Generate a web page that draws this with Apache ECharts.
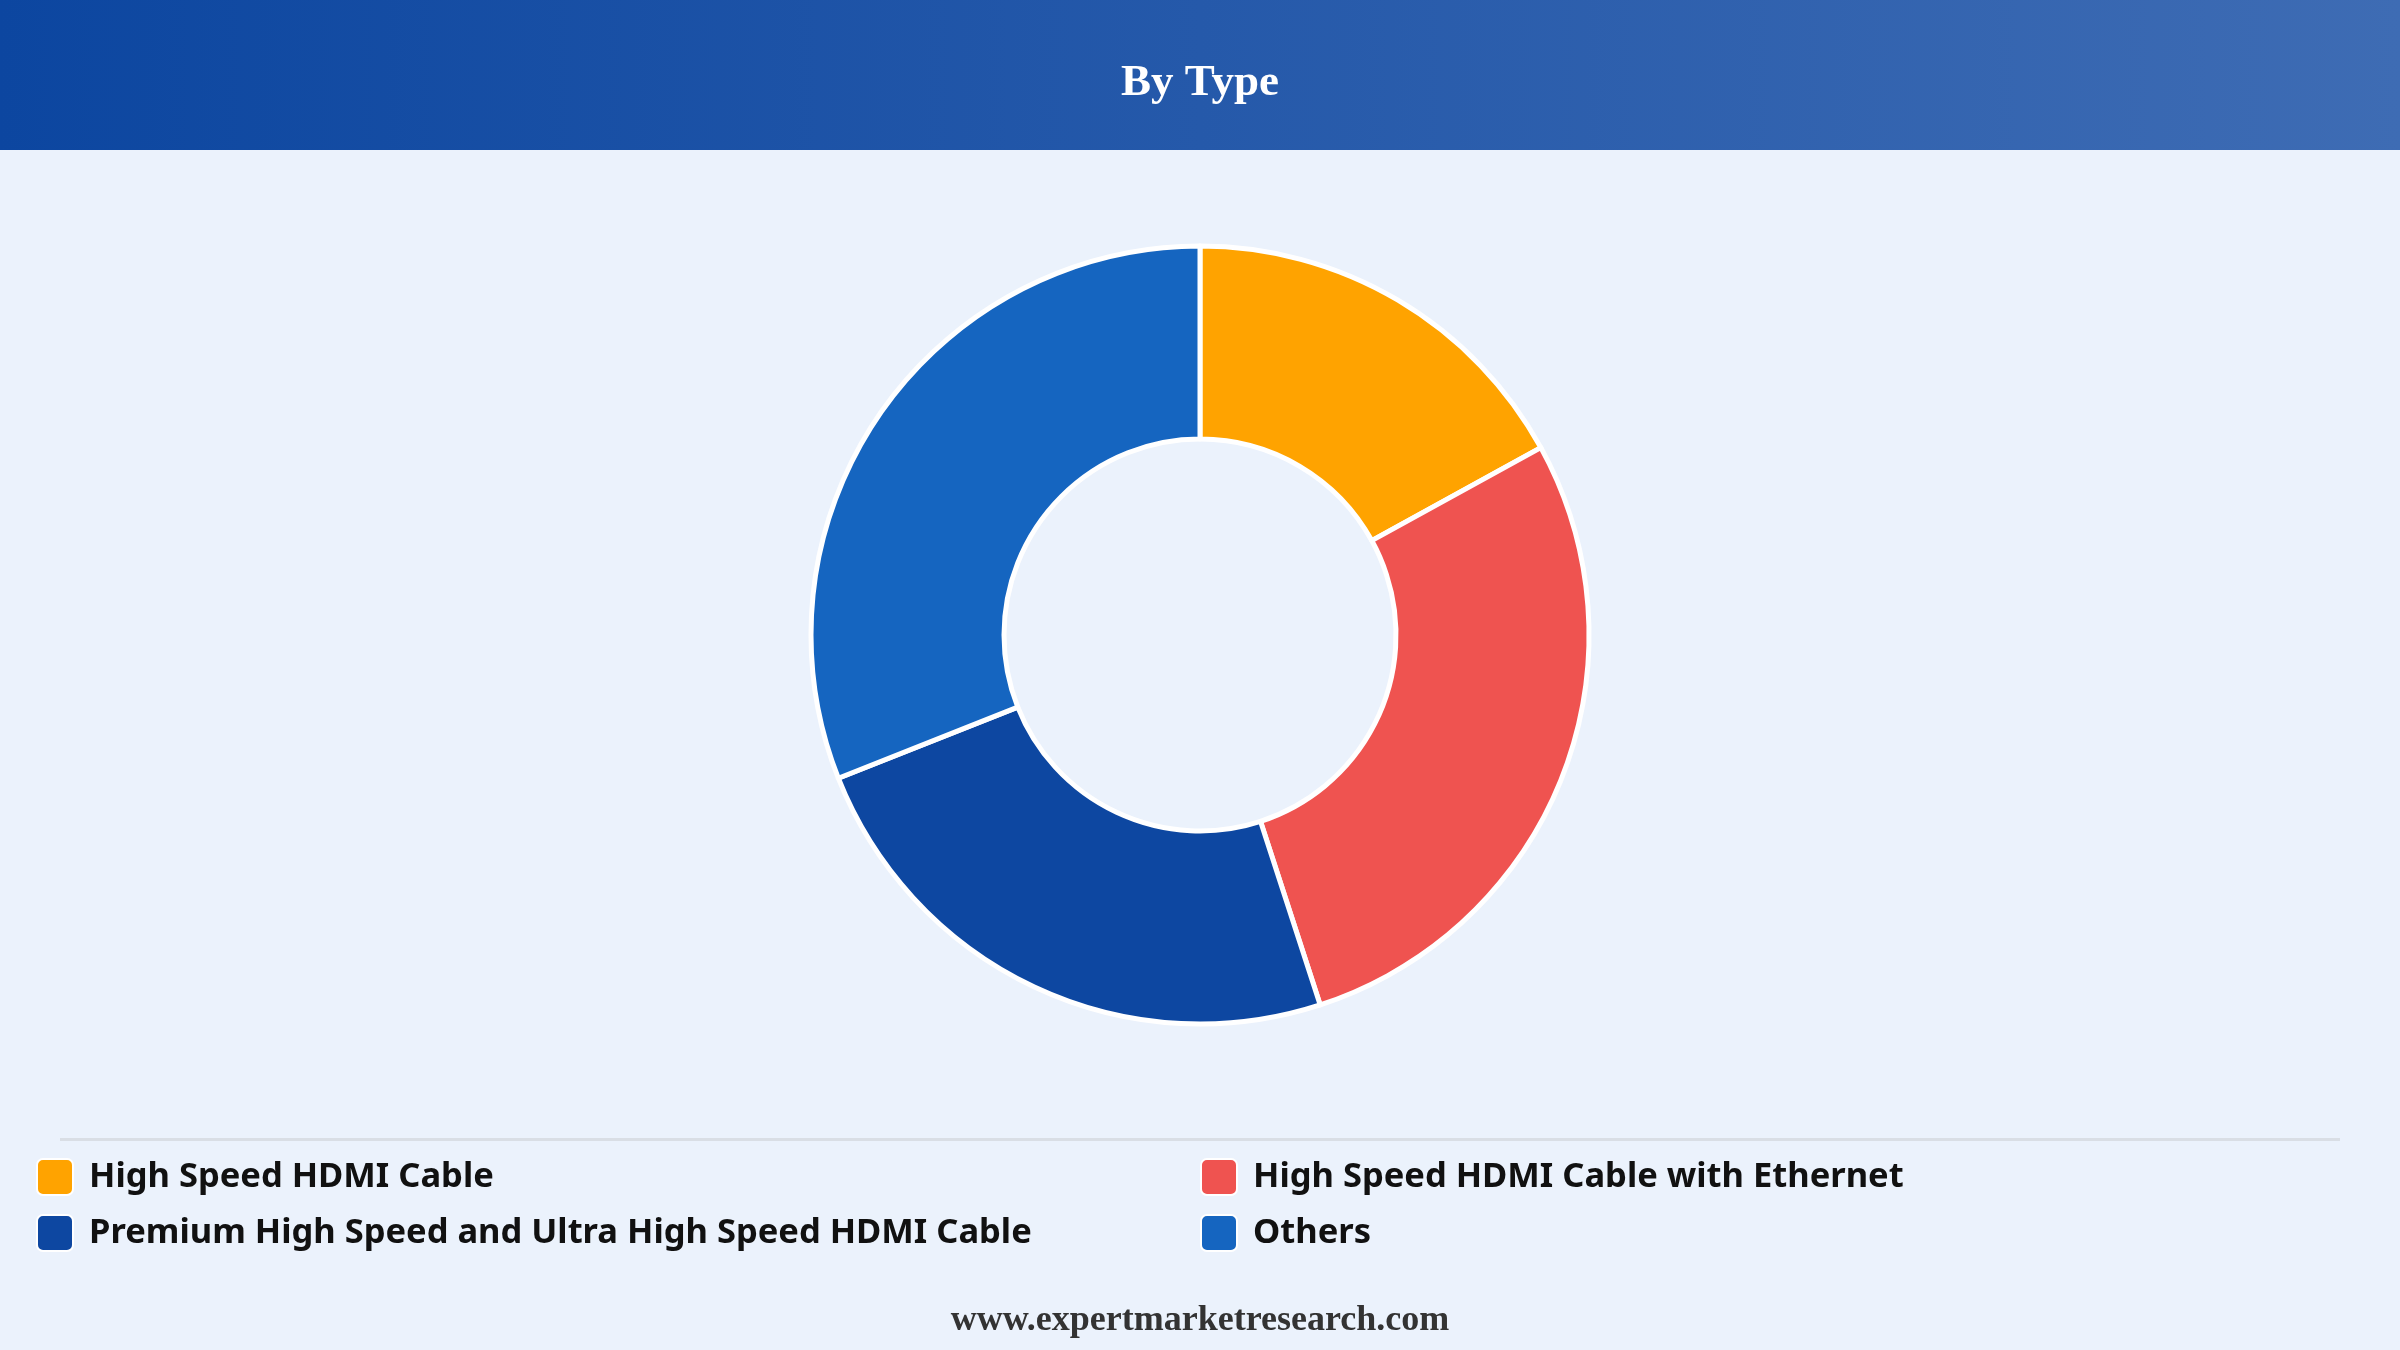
<!DOCTYPE html>
<html>
<head>
<meta charset="utf-8">
<script src="https://cdn.jsdelivr.net/npm/echarts@6/dist/echarts.min.js"></script>
<style>
html,body{margin:0;padding:0;background:#EBF2FC;}
#chart{width:2400px;height:1350px;}
</style>
</head>
<body>
<div id="chart"></div>
<script>
const categories = [
  'High Speed HDMI Cable',
  'High Speed HDMI Cable with Ethernet',
  'Premium High Speed and Ultra High Speed HDMI Cable',
  'Others'
];
const values = [17, 28, 24, 31];
const colors = ['#FFA300', '#EF5350', '#0D47A1', '#1565C0'];
const titleText = 'By Type';
const footerText = 'www.expertmarketresearch.com';

const chart = echarts.init(document.getElementById('chart'));
const legendCommon = {
  orient: 'vertical',
  top: 1153,
  itemWidth: 36,
  itemHeight: 36,
  itemGap: 18,
  icon: 'path://M6,0 H30 A6,6 0 0 1 36,6 V30 A6,6 0 0 1 30,36 H6 A6,6 0 0 1 0,30 V6 A6,6 0 0 1 6,0 Z',
  selectedMode: false,
  textStyle: {
    fontFamily: 'Noto Sans',
    fontWeight: 'bold',
    fontSize: 34.5,
    lineHeight: 36,
    color: '#111111',
    padding: [0, 0, 0, 11]
  }
};
chart.setOption({
  backgroundColor: '#EBF2FC',
  color: colors,
  title: {
    text: titleText,
    left: 'center',
    top: 56,
    textStyle: {
      fontFamily: 'Liberation Serif',
      fontWeight: 'bold',
      fontSize: 45,
      color: '#FFFFFF'
    }
  },
  graphic: [
    {
      type: 'rect',
      z: -1,
      shape: { x: 0, y: 0, width: 2400, height: 150 },
      style: {
        fill: new echarts.graphic.LinearGradient(0, 0, 1, 0, [
          { offset: 0, color: '#0C46A0' },
          { offset: 1, color: '#3E6CB4' }
        ])
      }
    },
    {
      type: 'rect',
      shape: { x: 60, y: 1138, width: 2280, height: 3 },
      style: { fill: '#D9DEE5' }
    },
    {
      type: 'text',
      left: 'center',
      top: 1303,
      style: {
        text: footerText,
        fontFamily: 'Liberation Serif',
        fontWeight: 'bold',
        fontSize: 36,
        fill: '#333333'
      }
    }
  ],
  legend: [
    Object.assign({}, legendCommon, { left: 31, data: [categories[0], categories[2]] }),
    Object.assign({}, legendCommon, { left: 1195, data: [categories[1], categories[3]] })
  ],
  series: [{
    type: 'pie',
    center: [1200, 635],
    radius: [196, 389],
    startAngle: 90,
    clockwise: true,
    label: { show: false },
    labelLine: { show: false },
    emphasis: { disabled: true },
    itemStyle: { borderColor: '#FFFFFF', borderWidth: 5 },
    data: categories.map((c, i) => ({ name: c, value: values[i] }))
  }]
});
</script>
</body>
</html>
